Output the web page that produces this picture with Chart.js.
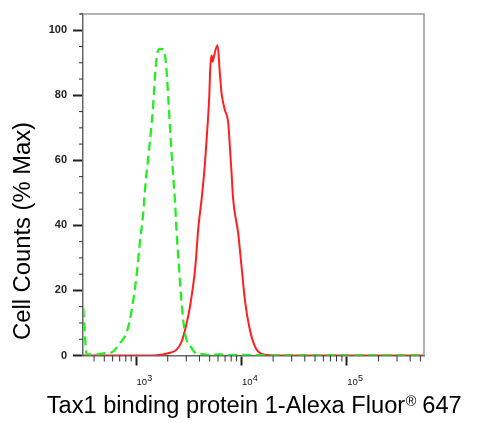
<!DOCTYPE html>
<html>
<head>
<meta charset="utf-8">
<script src="https://cdn.jsdelivr.net/npm/chart.js@4.4.1/dist/chart.umd.min.js"></script>
<style>
html,body{margin:0;padding:0;background:#fff;}
#wrap{width:500px;height:423px;}
</style>
</head>
<body>
<div id="wrap"><canvas id="c" width="500" height="423"></canvas></div>
<script>
// ---- data ----
const controlX = [316, 341, 408, 508, 592, 705, 787, 863, 942, 1016, 1091, 1173, 1217, 1308, 1387, 1459, 1514, 1592, 1680, 1754, 1815, 1924, 2023, 2100, 2179, 2258, 2344, 2432, 2558, 2712, 2914, 3372, 3896, 4317, 5000, 6255, 7500, 9675, 12000, 14970, 20000, 35840, 100000, 541000];
const controlY = [14.5, 0.3, 0.3, 0.7, 1.0, 3.8, 6.0, 10.0, 17.0, 25.0, 35.0, 44.0, 51.0, 61.0, 69.0, 77.5, 85.7, 92.8, 94.3, 94.2, 94.2, 89.8, 79.5, 70.3, 62.0, 55.0, 47.5, 37.7, 27.3, 16.0, 6.9, 2.3, 0.3, 0.4, 0.2, 0.3, 0.1, 0.2, 0.1, 0.1, 0, 0, 0, 0];
const sampleX = [314, 1091, 1571, 2023, 2432, 2712, 2979, 3250, 3650, 3896, 4200, 4511, 4743, 4955, 5060, 5200, 5350, 5520, 5940, 6252, 6487, 6979, 7498, 7780, 8072, 8357, 9324, 10040, 10800, 11860, 13430, 15530, 18620, 35800, 541000];
const sampleY = [0, 0, 0.1, 0.7, 1.8, 4.3, 9.0, 15.0, 27.0, 39.0, 48.3, 59.0, 69.3, 79.5, 88.0, 92.3, 90.3, 92.3, 95.4, 86.7, 80.6, 75.4, 71.6, 64.2, 56.0, 48.0, 37.6, 27.3, 17.1, 8.9, 2.8, 0.5, 0.1, 0, 0];

const yLabelValues = [0, 20, 40, 60, 80, 100];
const yMinorValues = [5, 10, 15, 25, 30, 35, 45, 50, 55, 65, 70, 75, 85, 90, 95, 105];
const xMajorValues = [1000, 10000, 100000];
const xMajorBase = ['10', '10', '10'];
const xMajorExp = ['3', '4', '5'];
const xMinorValues = [400, 500, 600, 700, 800, 900, 2000, 3000, 4000, 5000, 6000, 7000, 8000, 9000, 20000, 30000, 40000, 50000, 60000, 70000, 80000, 90000, 200000, 300000, 400000, 500000];
const yTitle = 'Cell Counts (% Max)';
const xTitleMain = 'Tax1 binding protein 1-Alexa Fluor';
const xTitleSup = '\u00AE';
const xTitleEnd = ' 647';

const FONT = '"Liberation Sans", Arial, Helvetica, sans-serif';

const decor = {
  id: 'decor',
  afterDraw(chart) {
    const ctx = chart.ctx;
    const xs = chart.scales.x, ys = chart.scales.y;
    const a = chart.chartArea;
    ctx.save();
    // frame top/right
    ctx.strokeStyle = '#9a9a9a';
    ctx.lineWidth = 1.5;
    ctx.beginPath();
    ctx.moveTo(a.left - 3, a.top);
    ctx.lineTo(a.right, a.top);
    ctx.lineTo(a.right, a.bottom);
    ctx.stroke();
    // minor ticks
    ctx.strokeStyle = '#333';
    ctx.lineWidth = 1;
    ctx.beginPath();
    yMinorValues.forEach(v => {
      const p = ys.getPixelForValue(v);
      ctx.moveTo(a.left - 4, p); ctx.lineTo(a.left, p);
    });
    xMinorValues.forEach(v => {
      const p = xs.getPixelForValue(v);
      ctx.moveTo(p, a.bottom); ctx.lineTo(p, a.bottom + 6);
    });
    ctx.stroke();
    // x tick labels 10^n
    ctx.fillStyle = '#111';
    ctx.textBaseline = 'alphabetic';
    ctx.textAlign = 'left';
    xMajorValues.forEach((v, i) => {
      const p = xs.getPixelForValue(v);
      ctx.font = '9.5px ' + FONT;
      ctx.fillText(xMajorBase[i], p + 0.5, a.bottom + 29.5);
      const w = ctx.measureText(xMajorBase[i]).width;
      ctx.font = '9px ' + FONT;
      ctx.fillText(xMajorExp[i], p + 0.5 + w + 0.3, a.bottom + 25);
    });
    // y title
    ctx.fillStyle = '#000';
    ctx.save();
    ctx.translate(29.5, 231);
    ctx.rotate(-Math.PI / 2);
    ctx.font = '23px ' + FONT;
    const wy = ctx.measureText(yTitle).width;
    ctx.scale(218 / wy, 1);
    ctx.textAlign = 'center';
    ctx.fillText(yTitle, 0, 0);
    ctx.restore();
    // x title
    ctx.save();
    ctx.font = '23px ' + FONT;
    const w1 = ctx.measureText(xTitleMain).width;
    const w3 = ctx.measureText(xTitleEnd).width;
    ctx.font = '14px ' + FONT;
    const w2 = ctx.measureText(xTitleSup).width;
    const sx = 415 / (w1 + w2 + w3);
    ctx.translate(46.7, 413);
    ctx.scale(sx, 1);
    ctx.textAlign = 'left';
    ctx.font = '23px ' + FONT;
    ctx.fillText(xTitleMain, 0, 0);
    ctx.font = '14px ' + FONT;
    ctx.fillText(xTitleSup, w1 + 0.5, -7);
    ctx.font = '23px ' + FONT;
    ctx.fillText(xTitleEnd, w1 + w2, 0);
    ctx.restore();
    ctx.restore();
  }
};

new Chart(document.getElementById('c'), {
  type: 'line',
  data: {
    datasets: [
      {
        label: 'Isotype control',
        data: controlX.map((x, i) => ({ x: x, y: controlY[i] })),
        borderColor: '#22ee22',
        borderWidth: 2.3,
        borderDash: [9, 5],
        pointRadius: 0,
        cubicInterpolationMode: 'monotone',
        fill: false
      },
      {
        label: 'Tax1 binding protein 1',
        data: sampleX.map((x, i) => ({ x: x, y: sampleY[i] })),
        borderColor: '#ff1f1f',
        borderWidth: 2,
        pointRadius: 0,
        cubicInterpolationMode: 'monotone',
        fill: false
      }
    ]
  },
  options: {
    responsive: false,
    animation: false,
    events: [],
    layout: { padding: { top: 14, right: 76, left: 0, bottom: 0 } },
    plugins: { legend: { display: false }, tooltip: { enabled: false } },
    scales: {
      x: {
        type: 'logarithmic',
        min: 314,
        max: 541000,
        afterBuildTicks: s => { s.ticks = xMajorValues.map(v => ({ value: v, major: true })); },
        afterFit: s => { s.height = 67.5; },
        grid: {
          drawOnChartArea: false,
          drawTicks: true,
          tickLength: 10,
          tickWidth: 2,
          tickColor: '#222'
        },
        border: { display: true, color: '#666', width: 1.5 },
        ticks: { display: false, autoSkip: false, maxRotation: 0 }
      },
      y: {
        min: 0,
        max: 105,
        afterBuildTicks: s => { s.ticks = yLabelValues.map(v => ({ value: v })); },
        afterFit: s => { s.width = 83; },
        grid: {
          drawOnChartArea: false,
          drawTicks: true,
          tickLength: 10,
          tickWidth: 2,
          tickColor: '#222'
        },
        border: { display: true, color: '#666', width: 1.5 },
        ticks: {
          autoSkip: false,
          padding: 6,
          color: '#222',
          font: { family: FONT, size: 11, weight: 'bold' },
          callback: v => String(v)
        }
      }
    }
  },
  plugins: [decor]
});
</script>
</body>
</html>
